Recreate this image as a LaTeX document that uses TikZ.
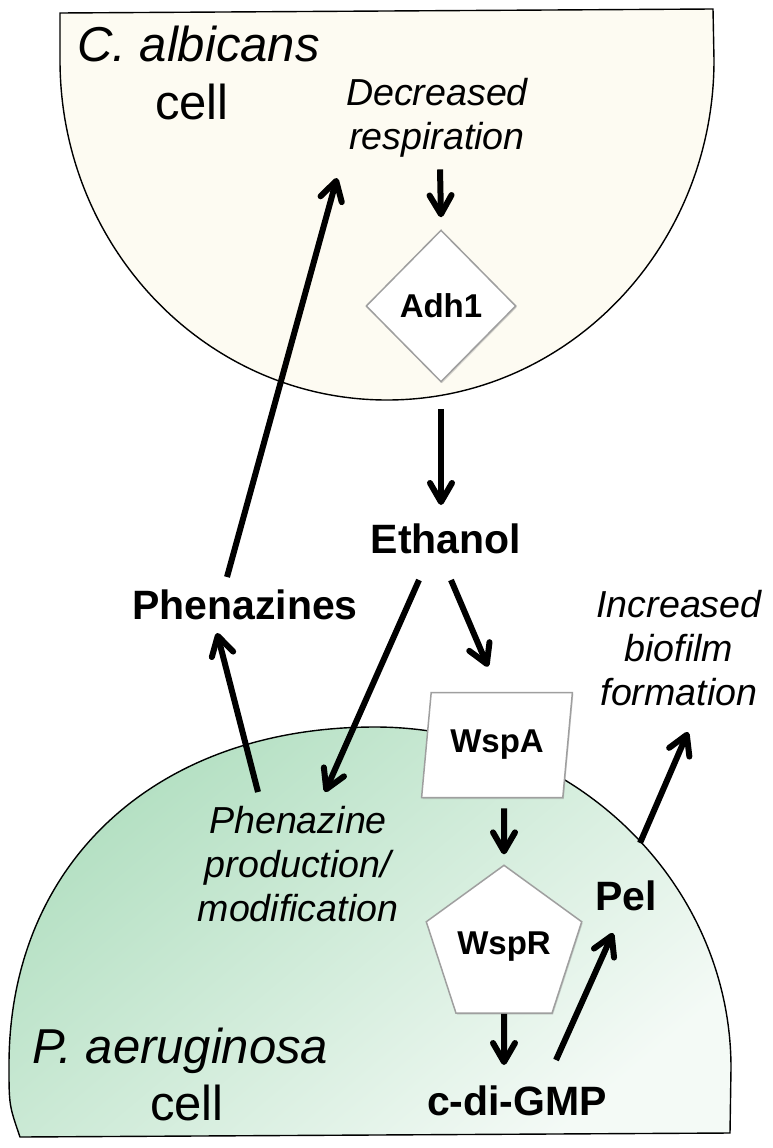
\documentclass[tikz,border=0pt]{standalone}
\usepackage{fontspec}
\setmainfont{Liberation Sans}
\usetikzlibrary{arrows.meta,shapes.geometric,shadows}
\definecolor{albicans}{RGB}{253,251,242}
\definecolor{aeruTop}{RGB}{178,223,193}
\definecolor{aeruBot}{RGB}{244,250,246}

\begin{document}
\begin{tikzpicture}[x=1pt,y=1pt]
  \tikzset{ArrowStyle/.style={line width=6pt,-{Straight Barb[length=19pt,width=22pt,round]}},
    CellStyle/.style={draw=black,line width=1.4pt},
    ShapeStyle/.style={draw=gray!75,line width=1.5pt,fill=white,inner sep=0pt,
      font=\fontsize{33}{38}\selectfont\bfseries,
      drop shadow={opacity=0.3,shadow xshift=1pt,shadow yshift=-1.5pt}},
    BoldLabel/.style={inner sep=0pt,anchor=base,font=\fontsize{41}{47}\selectfont\bfseries},
    ItLabel/.style={inner sep=0pt,anchor=north,align=center,font=\fontsize{37.6}{44}\selectfont\itshape},
    CellName/.style={inner sep=0pt,font=\fontsize{49}{56}\selectfont}
  }
  \useasboundingbox (0,0) rectangle (773,-1148);
  % the two cells
  \draw[CellStyle,fill=albicans] (60,-13) -- (713,-9) -- (714,-60)
    arc[start angle=0,end angle=-180,x radius=327,y radius=340] -- cycle;
  \draw[CellStyle,top color=aeruTop,bottom color=aeruBot,shading angle=40]
    (20,-1137) .. controls (9,-1105) .. (9,-1065) .. controls (9,-864) and (155,-727) .. (375,-727)
    .. controls (571,-727) and (731,-881) .. (731,-1068) -- (730,-1133) -- cycle;

  \node[CellName,anchor=base west] (calb) at (77,-62) {\itshape C. albicans};
  \node[CellName,anchor=base] (ccell) at (192,-119) {cell};
  \node[ItLabel] (decr) at (437,-78) {Decreased\\respiration};
  \node[ShapeStyle,diamond,minimum width=150pt,minimum height=152pt] (adh) at (441,-306) {Adh1};
  \node[BoldLabel] (eth) at (446,-553) {Ethanol};
  \node[BoldLabel] (phen) at (245,-619) {Phenazines};
  \node[ItLabel] (incr) at (679,-590) {Increased\\biofilm\\formation};
  \node[ItLabel] (phenprod) at (298,-806) {Phenazine\\production/\\modification};
  \node[ShapeStyle,trapezium,trapezium left angle=77,trapezium right angle=103,
    trapezium stretches=true,minimum width=151pt,minimum height=105pt] (wspa) at (497,-745) {WspA};
  \node[ShapeStyle,regular polygon,regular polygon sides=5,minimum size=126pt] (wspr) at (504,-947) {WspR};
  \node[BoldLabel] (pel) at (626,-910) {Pel};
  \node[BoldLabel] (cdg) at (517,-1115) {c-di-GMP};
  \node[CellName,anchor=base west] (paer) at (32,-1063) {\itshape P. aeruginosa};
  \node[CellName,anchor=base] (pcell) at (187,-1120) {cell};
  \coordinate (albin) at (337,-178);

  \draw[ArrowStyle] ([shift={(3,-12)}]decr.south) -- ([yshift=12pt]adh.north);
  \draw[ArrowStyle] ([yshift=-26pt]adh.south) -- ([shift={(-5,48)}]eth.base);
  \draw[ArrowStyle] ([shift={(-27,-27)}]eth.base) -- ([shift={(27,14)}]phenprod.north);
  \draw[ArrowStyle] ([shift={(5,-27)}]eth.base) -- ([shift={(-9,25)}]wspa.north);
  \draw[ArrowStyle] ([shift={(-40,14)}]phenprod.north) -- ([shift={(-28,-14)}]phen.base);
  \draw[ArrowStyle] ([shift={(-18,42)}]phen.base) -- (albin);
  \draw[ArrowStyle] ([shift={(7,-10)}]wspa.south) -- ([yshift=10pt]wspr.north);
  \draw[ArrowStyle] (wspr.south) -- ([shift={(-13,50)}]cdg.base);
  \draw[ArrowStyle] ([shift={(39,55)}]cdg.base) -- ([shift={(-13,-23)}]pel.base);
  \draw[ArrowStyle] ([shift={(14,67)}]pel.base) -- ([shift={(9,-26)}]incr.south);
\end{tikzpicture}
\end{document}
